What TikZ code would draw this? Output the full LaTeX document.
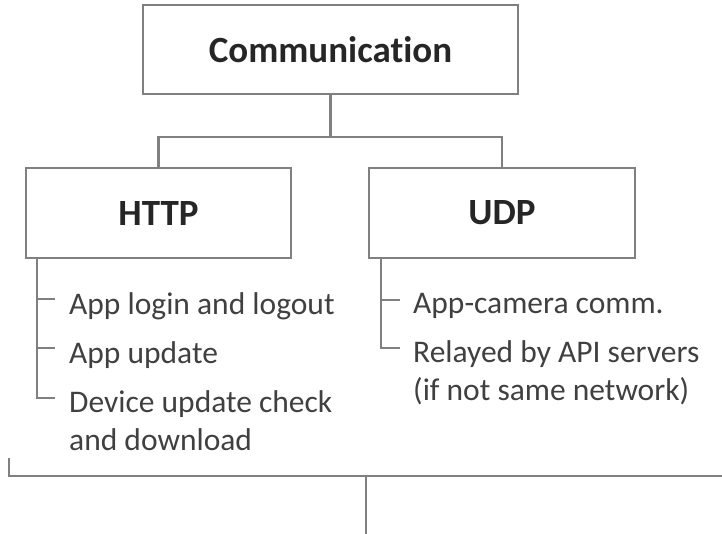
\documentclass[tikz,border=0pt]{standalone}
\usepackage{fontspec}
\setmainfont{Carlito}[Ligatures=NoCommon]
\begin{document}
\begin{tikzpicture}[x=1pt,y=-1pt,
  conn/.style={draw=linegray,line width=2.2pt},
  boxnode/.style={draw=linegray,line width=2.2pt,rectangle,inner sep=0pt,
     font=\fontsize{37}{44}\selectfont\bfseries,text=boldtext},
  itemtext/.style={anchor=base west,inner sep=0pt,
     font=\fontsize{31.5}{38}\selectfont,text=bodytext}]
\definecolor{linegray}{HTML}{808080}
\definecolor{boldtext}{HTML}{262626}
\definecolor{bodytext}{HTML}{404040}
\useasboundingbox (0,0) rectangle (722,533);
% boxes
\node[boxnode,minimum width=375pt,minimum height=89pt] (comm) at (330.5,49.5) {Communication};
\node[boxnode,minimum width=265pt,minimum height=90pt] (http) at (158.5,213) {HTTP};
\node[boxnode,minimum width=266pt,minimum height=90pt] (udp) at (502,213) {UDP};
% tree connectors
\coordinate (split) at (330.5,137);
\draw[conn] (comm.south) -- (split);
\draw[conn] (split) -| (http.north);
\draw[conn] (split) -| (udp.north);
% HTTP items
\node[itemtext] (h1) at (69,314) {App login and logout};
\node[itemtext] (h2) at (69,363) {App update};
\node[itemtext] (h3a) at (69,412) {Device update check};
\node[itemtext] (h3b) at (69,450) {and download};
\coordinate (hb) at (37,258);
\coordinate (ht1) at (55,299);
\coordinate (ht2) at (55,348);
\coordinate (ht3) at (55,398);
\draw[conn] (hb) |- (ht3);
\draw[conn] (hb |- ht1) -- (ht1);
\draw[conn] (hb |- ht2) -- (ht2);
% UDP items
\node[itemtext] (u1) at (413,313) {App-camera comm.};
\node[itemtext] (u2a) at (413,362) {Relayed by API servers};
\node[itemtext] (u2b) at (413,400) {(if not same network)};
\coordinate (ub) at (381,258);
\coordinate (ut1) at (400,300);
\coordinate (ut2) at (400,348);
\draw[conn] (ub) |- (ut2);
\draw[conn] (ub |- ut1) -- (ut1);
% bottom bracket
\coordinate (bl) at (9,458);
\coordinate (br) at (723,476);
\coordinate (bd) at (366,534);
\draw[conn] (bl) |- (br);
\draw[conn] (bd |- br) -- (bd);
\end{tikzpicture}
\end{document}
